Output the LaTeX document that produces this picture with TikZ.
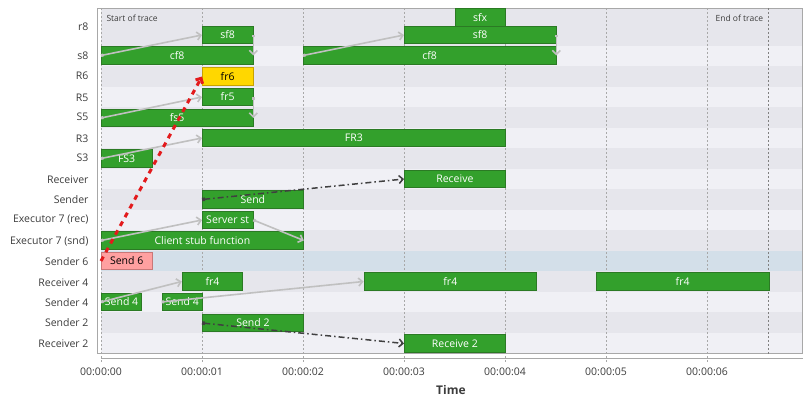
\documentclass[tikz,border=0pt]{standalone}
\usepackage{fontspec}
\setmainfont{Open Sans}
\usetikzlibrary{arrows.meta}

\definecolor{barfill}{HTML}{33A02C}
\definecolor{bardraw}{HTML}{2B7A24}
\definecolor{selfill}{HTML}{FFD700}
\definecolor{seldraw}{HTML}{C8A200}
\definecolor{pinkfill}{HTML}{FFA0A0}
\definecolor{pinkdraw}{HTML}{C87878}
\definecolor{rowdark}{HTML}{E6E6EC}
\definecolor{rowlight}{HTML}{F0F0F5}
\definecolor{rowsel}{HTML}{D3DFE9}
\definecolor{callgray}{HTML}{C0C0C0}
\definecolor{msggray}{HTML}{404040}
\definecolor{critred}{HTML}{E31A1C}
\definecolor{labeltext}{HTML}{3C3C3C}
\definecolor{framegray}{HTML}{A8A8A8}

\begin{document}
\begin{tikzpicture}[x=101pt,y=-1pt,
  bar/.style={draw=bardraw,fill=barfill,text=white,anchor=west,minimum height=17.5pt,
    inner sep=0pt,line width=0.8pt,font=\fontsize{10.5}{12}\selectfont},
  dur/.style={minimum width=#1*101pt},
  rowlabel/.style={anchor=east,text=labeltext,font=\fontsize{10.5}{12}\selectfont},
  ticklabel/.style={text=labeltext,font=\fontsize{10.5}{12}\selectfont},
  note/.style={text=labeltext,font=\fontsize{8.5}{10}\selectfont},
  call/.style={draw=callgray,line width=1.6pt,
    {Square[length=2.5pt,width=3pt]}-{Straight Barb[length=4pt,width=8pt]}},
  msg/.style={draw=msggray,line width=1.5pt,dash pattern=on 6pt off 3pt on 1.5pt off 3pt,
    {Square[length=3pt,width=3.5pt]}-{Straight Barb[length=4pt,width=8pt]}},
  crit/.style={draw=critred,line width=3pt,dash pattern=on 5pt off 5pt,
    -{Straight Barb[length=4pt,width=8pt]}},
  gridline/.style={draw=framegray,line width=0.6pt,dash pattern=on 2pt off 2pt},
]
\useasboundingbox (-1,0) rectangle (6.9505,404);

% rows
\fill[rowlight] (0,8) rectangle (6.9406,353.7);
\fill[rowdark] (0,8) rectangle (6.9406,46);
\foreach \i in {1,3,5,7,9,11,13}
  \fill[rowdark] (0,{46+20.47*\i}) rectangle (6.9406,{46+20.47*(\i+1)});
\fill[rowsel] (0,{46+20.47*10}) rectangle (6.9406,{46+20.47*11});

% frame and time grid
\draw[framegray,line width=0.8pt] (-0.04,8) rectangle (6.9406,353.7);
\foreach \t in {0,...,6}
  \draw[gridline] (\t,8) -- (\t,362);
\draw[draw=gray,line width=0.8pt,dash pattern=on 2pt off 2pt] (6.604,8) -- (6.604,353.7);
\draw[framegray,line width=0.8pt] (0,358.5) -- (6.9505,358.5);
\foreach \t in {0,...,6}
  \node[ticklabel] (tick\t) at (\t,372) {00:00:0\t};
\node[font=\fontsize{12}{14}\selectfont\bfseries,text=labeltext] (timelabel) at (3.465,390) {Time};

\node[note,anchor=west] (start) at (0.02,18) {Start of trace};
\node[note,anchor=east] (end) at (6.59,18) {End of trace};

% row labels
\foreach \name/\yy in {r8/27,s8/56,R6/76,R5/98,S5/117,R3/139,S3/158,Receiver/180,Sender/200,
    {Executor 7 (rec)}/220,{Executor 7 (snd)}/241,{Sender 6}/262,{Receiver 4}/283,
    {Sender 4}/303,{Sender 2}/323,{Receiver 2}/344}
  \node[rowlabel] (lab\yy) at (-0.089,\yy) {\name};

% bars
\node[bar,dur=0.5] (sfx) at (3.5,17.5) {sfx};
\node[bar,dur=0.5] (sfA) at (1,35) {sf8};
\node[bar,dur=1.5] (sfB) at (3,35) {sf8};
\node[bar,dur=1.5] (cfA) at (0,55.5) {cf8};
\node[bar,dur=2.5] (cfB) at (2,55.5) {cf8};
\node[bar,dur=0.5,fill=selfill,draw=seldraw,text=black] (fr6) at (1,76.5) {fr6};
\node[bar,dur=0.5] (fr5) at (1,97) {fr5};
\node[bar,dur=1.5] (fs5) at (0,118) {fs5};
\node[bar,dur=3] (FR3) at (1,138) {FR3};
\node[bar,dur=0.5] (FS3) at (0,158.5) {FS3};
\node[bar,dur=1] (recv) at (3,179) {Receive};
\node[bar,dur=1] (send) at (1,199.5) {Send};
\node[bar,dur=0.5] (srvstub) at (1,220) {Server st};
\node[bar,dur=2] (clistub) at (0,240.5) {Client stub function};
\node[bar,dur=0.5,fill=pinkfill,draw=pinkdraw,text=black] (sendsix) at (0,261) {Send 6};
\node[bar,dur=0.6] (frA) at (0.8,281.5) {fr4};
\node[bar,dur=1.71] (frB) at (2.6,281.5) {fr4};
\node[bar,dur=1.71] (frC) at (4.9,281.5) {fr4};
\node[bar,dur=0.4] (sendA) at (0,302) {Send 4};
\node[bar,dur=0.4] (sendB) at (0.6,302) {Send 4};
\node[bar,dur=1] (sendtwo) at (1,323) {Send 2};
\node[bar,dur=1] (recvtwo) at (3,343.5) {Receive 2};

% calls
\draw[call] (cfA.west) -- (sfA.west);
\draw[call] (sfA.east) -- (cfA.east);
\draw[call] (cfB.west) -- (sfB.west);
\draw[call] (sfB.east) -- (cfB.east);
\draw[call] (fs5.west) -- (fr5.west);
\draw[call] (fr5.east) -- (fs5.east);
\draw[call] (FS3.west) -- (FR3.west);
\draw[call] (clistub.west) -- (srvstub.west);
\draw[call] (srvstub.east) -- (clistub.east);
\draw[call] (sendA.west) -- (frA.west);
\draw[call] (sendB.west) -- (frB.west);

% messages
\draw[msg] (send.west) -- (recv.west);
\draw[msg] (sendtwo.west) -- (recvtwo.west);
\draw[crit] (sendsix.west) -- (fr6.west);
\end{tikzpicture}
\end{document}
